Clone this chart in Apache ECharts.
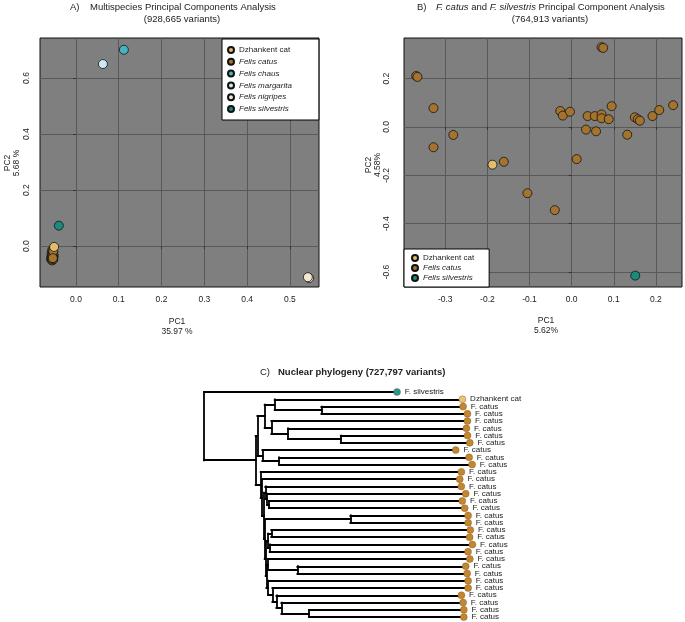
<!DOCTYPE html>
<html>
<head>
<meta charset="utf-8">
<script src="https://cdn.jsdelivr.net/npm/echarts@6/dist/echarts.min.js"></script>
<style>
html, body { margin: 0; padding: 0; background: #fff; }
#chart { width: 685px; height: 622px; }
</style>
</head>
<body>
<div id="chart"></div>
<script>
var FONT = '"Liberation Sans", Arial, Helvetica, sans-serif';

// A) multispecies PCA, [PC1, PC2]
var pcaA_catus = [
    [-0.055, -0.012], [-0.054, -0.016], [-0.056, -0.020], [-0.053, -0.022], [-0.055, -0.025],
    [-0.057, -0.028], [-0.054, -0.030], [-0.056, -0.032], [-0.052, -0.034], [-0.055, -0.036],
    [-0.057, -0.038], [-0.054, -0.040], [-0.056, -0.042], [-0.053, -0.044], [-0.055, -0.046],
    [-0.057, -0.047], [-0.054, -0.048], [-0.056, -0.050], [-0.058, -0.044], [-0.053, -0.038],
    [-0.056, -0.036], [-0.054, -0.026], [-0.057, -0.049], [-0.055, -0.051], [-0.053, -0.047],
    [-0.056, -0.045], [-0.054, -0.042], [-0.055, -0.040], [-0.053, -0.018], [-0.054, -0.043]
];
var pcaA_dzhankent = [[-0.051, -0.003]];
var pcaA_chaus = [[0.112, 0.701]];
var pcaA_margarita = [[0.063, 0.650]];
var pcaA_nigripes = [[0.545, -0.114], [0.542, -0.111]];
var pcaA_silvestris = [[-0.040, 0.073]];
var pcaA_xTicks = [0, 0.1, 0.2, 0.3, 0.4, 0.5];
var pcaA_yTicks = [0, 0.2, 0.4, 0.6];

// B) F. catus / F. silvestris PCA
var pcaB_catus = [
    [0.071, 0.330], [0.075, 0.327], [-0.369, 0.211], [-0.366, 0.207], [-0.328, 0.078],
    [-0.281, -0.033], [-0.328, -0.084], [-0.161, -0.144], [-0.105, -0.274], [-0.040, -0.344],
    [0.012, -0.133], [-0.027, 0.066], [-0.021, 0.047], [-0.004, 0.063], [0.034, -0.011],
    [0.038, 0.045], [0.055, 0.045], [0.058, -0.018], [0.071, 0.052], [0.071, 0.036],
    [0.088, 0.032], [0.095, 0.086], [0.132, -0.032], [0.150, 0.040], [0.157, 0.032],
    [0.162, 0.026], [0.192, 0.045], [0.208, 0.070], [0.241, 0.090]
];
var pcaB_dzhankent = [[-0.188, -0.156]];
var pcaB_silvestris = [[0.151, -0.615]];
var pcaB_xTicks = [-0.3, -0.2, -0.1, 0, 0.1, 0.2];
var pcaB_yTicks = [-0.6, -0.4, -0.2, 0, 0.2];

// C) nuclear phylogeny, Newick with branch lengths
var cladeA = "((Dzhankent cat:0.1877,(F. catus:0.1417,F. catus:0.1460):0.0467):0.0100," +
    "(F. catus:0.1960,(F. catus:0.1783,(F. catus:0.1267,F. catus:0.1290):0.0527):0.0167):0.0067)";
var cladeB = "(F. catus:0.1933,(F. catus:0.1900,F. catus:0.1930):0.0167)";
var cladeG1 = "(F. catus:0.1960,(F. catus:0.1987,(F. catus:0.1933,F. catus:0.1957):0.0020):0.0017)";
var cladeG2 = "((F. catus:0.1990,F. catus:0.1983):0.0033,(F. catus:0.2027,F. catus:0.1983):0.0017)";
var cladeG3 = "((F. catus:0.2017,(F. catus:0.1683,F. catus:0.1697):0.0293):0.0017," +
    "(F. catus:0.2000,(F. catus:0.1957,(F. catus:0.1850,(F. catus:0.1817," +
    "(F. catus:0.1547,F. catus:0.1547):0.0277):0.0050):0.0040):0.0043):0.0017)";
var cladeRest = "(F. catus:0.2007,(F. catus:0.1977,(" + cladeG1 + ":0.0013,((F. catus:0.1177,F. catus:0.1177):0.0857,(" +
    cladeG2 + ":0.0023," + cladeG3 + ":0.0007):0.0010):0.0007):0.0020):0.0013)";
var newick = "(F. silvestris:0.1930,((" + cladeA + ":0.0073," + cladeB + ":0.0050):0.0017," + cladeRest + ":0.0050):0.0517);";

var speciesColors = {
    "Dzhankent cat": "#E2BD6C",
    "Felis catus": "#A4742F",
    "Felis chaus": "#46B3C3",
    "Felis margarita": "#C9EBF3",
    "Felis nigripes": "#F4E7CF",
    "Felis silvestris": "#1A8A7F"
};
var tipColors = { "F. silvestris": "#2A9889", "Dzhankent cat": "#E6C577", "F. catus": "#C4862F" };

function parseNewick(s) {
    var i = 0;
    function node() {
        var n = { children: [], name: "", len: 0 };
        if (s[i] === "(") {
            i++;
            n.children.push(node());
            while (s[i] === ",") { i++; n.children.push(node()); }
            i++;
        }
        var start = i;
        while (i < s.length && ":,);".indexOf(s[i]) < 0) i++;
        n.name = s.slice(start, i).trim();
        if (s[i] === ":") {
            i++; start = i;
            while (i < s.length && ",);".indexOf(s[i]) < 0) i++;
            n.len = parseFloat(s.slice(start, i));
        }
        return n;
    }
    return node();
}

// rectangular (ape style) layout: x = depth, y = tip order
var tips = [], segs = [], leafCount = 0;
function layout(n, x0, isRoot) {
    n.x = x0 + n.len;
    if (!n.children.length) {
        leafCount++;
        n.y = leafCount;
        tips.push(n);
    } else {
        n.children.forEach(function (c) { layout(c, n.x, false); });
        var y1 = n.children[0].y, y2 = n.children[n.children.length - 1].y;
        n.y = (y1 + y2) / 2;
        segs.push([[n.x, y1], [n.x, y2]]);
    }
    if (!isRoot) segs.push([[x0, n.y], [n.x, n.y]]);
}
layout(parseNewick(newick), 0, true);

function pcaAxis(grid, min, max, ticks, isY, margin) {
    return {
        gridIndex: grid, type: "value", min: min, max: max,
        axisLine: { show: false },
        axisTick: { show: true, customValues: ticks, length: 3, lineStyle: { color: "#333" } },
        axisLabel: {
            customValues: ticks, fontSize: 8.5, fontFamily: FONT, color: "#222",
            margin: margin, rotate: isY ? 90 : 0,
            formatter: function (v) { return v.toFixed(1); }
        },
        splitLine: { show: true, lineStyle: { color: "#595959", width: 1 } }
    };
}

function pcaSeries(name, grid, data) {
    return {
        type: "scatter", name: name, xAxisIndex: grid, yAxisIndex: grid, data: data,
        symbolSize: 9, animation: false,
        itemStyle: { color: speciesColors[name], borderColor: "#111", borderWidth: 0.8, opacity: 1 }
    };
}

function italicName(name) {
    return name === "Dzhankent cat" ? name : "{i|" + name + "}";
}

var legendText = {
    fontSize: 8, fontFamily: FONT, color: "#222", lineHeight: 10,
    rich: { i: { fontStyle: "italic", fontSize: 8, fontFamily: FONT, color: "#222", lineHeight: 10 } }
};

function txt(x, y, text, opts) {
    opts = opts || {};
    return {
        type: "text", x: x, y: y, rotation: opts.rotation || 0, silent: true,
        style: {
            text: text, fill: "#222", fontFamily: FONT,
            fontSize: opts.size || 8.5, fontWeight: opts.weight || "normal",
            textAlign: opts.align || "center", align: opts.align || "center",
            textVerticalAlign: "middle", verticalAlign: "middle",
            rich: opts.rich
        }
    };
}

var richTitle = {
    n: { fontSize: 9.5, fontFamily: FONT, color: "#222" },
    i: { fontSize: 9.5, fontFamily: FONT, color: "#222", fontStyle: "italic" }
};

var chart = echarts.init(document.getElementById("chart"));
chart.setOption({
    animation: false,
    backgroundColor: "#fff",
    grid: [
        { left: 40, top: 38, width: 279, height: 249, show: true, backgroundColor: "#7F7F7F", borderColor: "#111", borderWidth: 1 },
        { left: 404, top: 38, width: 278, height: 249, show: true, backgroundColor: "#7F7F7F", borderColor: "#111", borderWidth: 1 },
        { left: 204, top: 388.4, width: 300, height: 232.3, show: false }
    ],
    xAxis: [
        pcaAxis(0, -0.084, 0.568, pcaA_xTicks, false, 8),
        pcaAxis(1, -0.398, 0.262, pcaB_xTicks, false, 8),
        { gridIndex: 2, type: "value", min: 0, max: 0.3, show: false }
    ],
    yAxis: [
        pcaAxis(0, -0.146, 0.743, pcaA_yTicks, true, 9),
        pcaAxis(1, -0.662, 0.368, pcaB_yTicks, true, 13),
        { gridIndex: 2, type: "value", min: 0.5, max: 32.5, inverse: true, show: false }
    ],
    legend: [
        {
            left: 222, top: 39, orient: "vertical", selectedMode: false,
            data: ["Dzhankent cat", "Felis catus", "Felis chaus", "Felis margarita", "Felis nigripes", "Felis silvestris"],
            icon: "circle", itemWidth: 6, itemHeight: 6, itemGap: 1.8,
            padding: [6, 27, 6, 5], backgroundColor: "#fff", borderColor: "#000", borderWidth: 1, borderRadius: 0,
            textStyle: legendText, formatter: italicName
        },
        {
            left: 404, top: 249, orient: "vertical", selectedMode: false,
            data: ["Dzhankent cat", "Felis catus", "Felis silvestris"],
            icon: "circle", itemWidth: 6, itemHeight: 6, itemGap: 0,
            padding: [4, 15, 4, 7], backgroundColor: "#fff", borderColor: "#000", borderWidth: 1, borderRadius: 0,
            textStyle: legendText, formatter: italicName
        }
    ],
    graphic: [
        txt(70, 7.5, "A)", { size: 9.5, align: "left" }),
        txt(90, 7.5, "Multispecies Principal Components Analysis", { size: 9.5, align: "left" }),
        txt(182, 19, "(928,665 variants)", { size: 9.5 }),
        txt(417, 7.5, "B)", { size: 9.5, align: "left" }),
        txt(436, 7.5, "{i|F. catus}{n| and }{i|F. silvestris}{n| Principal Component Analysis}", { size: 9.5, align: "left", rich: richTitle }),
        txt(550, 19, "(764,913 variants)", { size: 9.5 }),
        txt(177, 322, "PC1"),
        txt(177, 332, "35.97 %"),
        txt(7.5, 163, "PC2", { rotation: Math.PI / 2 }),
        txt(16.5, 163, "5.68 %", { rotation: Math.PI / 2 }),
        txt(546, 321, "PC1"),
        txt(546, 331, "5.62%"),
        txt(369, 165, "PC2", { rotation: Math.PI / 2 }),
        txt(378, 165, "4.58%", { rotation: Math.PI / 2 }),
        txt(260, 372, "C)", { size: 9.5, align: "left" }),
        txt(278, 372, "Nuclear phylogeny (727,797 variants)", { size: 9.5, align: "left", weight: "bold" })
    ],
    series: [
        pcaSeries("Felis catus", 0, pcaA_catus),
        pcaSeries("Dzhankent cat", 0, pcaA_dzhankent),
        pcaSeries("Felis chaus", 0, pcaA_chaus),
        pcaSeries("Felis margarita", 0, pcaA_margarita),
        pcaSeries("Felis nigripes", 0, pcaA_nigripes),
        pcaSeries("Felis silvestris", 0, pcaA_silvestris),
        pcaSeries("Felis catus", 1, pcaB_catus),
        pcaSeries("Dzhankent cat", 1, pcaB_dzhankent),
        pcaSeries("Felis silvestris", 1, pcaB_silvestris),
        {
            type: "lines", name: "tree", coordinateSystem: "cartesian2d", xAxisIndex: 2, yAxisIndex: 2,
            polyline: false, silent: true, animation: false,
            data: segs.map(function (s) { return { coords: s }; }),
            lineStyle: { color: "#000", width: 1.8, opacity: 1, cap: "square" }
        },
        {
            type: "scatter", name: "tips", xAxisIndex: 2, yAxisIndex: 2, symbolSize: 7, silent: true, animation: false,
            data: tips.map(function (t) {
                return { value: [t.x, t.y], name: t.name, itemStyle: { color: tipColors[t.name] } };
            }),
            itemStyle: { borderColor: "#7a5420", borderWidth: 0.4, opacity: 1 },
            label: { show: true, position: "right", distance: 4, formatter: "{b}", fontSize: 8, fontFamily: FONT, color: "#222" }
        }
    ]
});
</script>
</body>
</html>
